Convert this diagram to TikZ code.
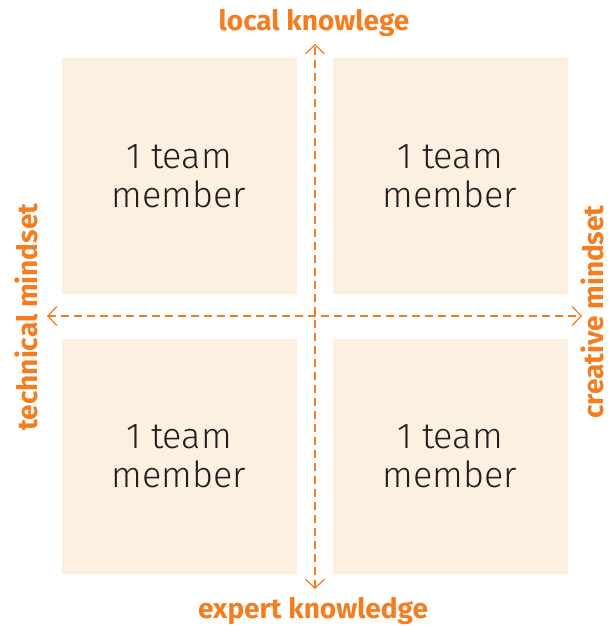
\documentclass[tikz,border=0pt]{standalone}
\usepackage{fontspec}
\setmainfont{Fira Sans}
\newfontfamily\teamfont{Fira Sans Light}
\usetikzlibrary{arrows.meta}
\definecolor{boxfill}{HTML}{FDF0E1}
\definecolor{axisorange}{HTML}{F47D20}
\definecolor{teamtext}{HTML}{231F20}
\tikzset{
  teambox/.style={fill=boxfill, minimum width=235pt, minimum height=235pt, inner sep=0pt,
    align=center, text=teamtext, font=\teamfont\fontsize{36}{39}\selectfont},
  axislabel/.style={text=axisorange, font=\fontsize{28}{30}\selectfont\bfseries, inner sep=0pt},
  axisline/.style={draw=axisorange, line width=1.2pt, dash pattern=on 8pt off 5pt,
    {Straight Barb[length=9pt,width=19pt,line width=1.2pt]}-{Straight Barb[length=9pt,width=19pt,line width=1.2pt]}}
}
\begin{document}
\begin{tikzpicture}[x=1pt,y=-1pt]
			\useasboundingbox (0,0) rectangle (610,626);
			% Quadrants
			\node[teambox] (tl) at (179,176) {1 team\\member};
			\node[teambox] (tr) at (450,176) {1 team\\member};
			\node[teambox] (bl) at (179,456) {1 team\\member};
			\node[teambox] (br) at (450,456) {1 team\\member};

			% Axes
			\coordinate (top) at (315,44);
			\coordinate (bot) at (315,589);
			\coordinate (west) at (47,316);
			\coordinate (east) at (582,316);
			\draw[axisline] (bot) -- (top);
			\draw[axisline] (west) -- (east);

			% Axis labels
			\node[axislabel, anchor=base] (local) at (314,31) {local knowlege};
			\node[axislabel, anchor=base] (expert) at (313,618) {expert knowledge};
			\node[axislabel, rotate=90, anchor=base] (technical) at (37,317) {technical mindset};
			\node[axislabel, rotate=90, anchor=base] (creative) at (603,312) {creative mindset};
		\end{tikzpicture}
\end{document}
